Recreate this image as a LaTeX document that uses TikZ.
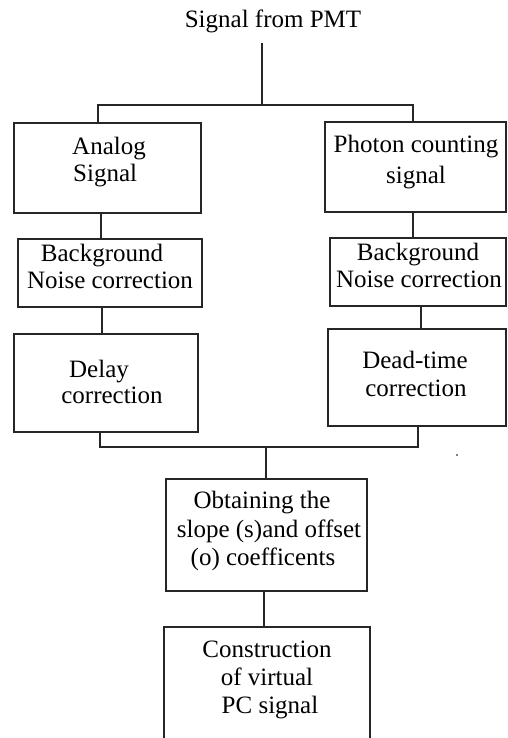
\documentclass[tikz,border=0pt]{standalone}
\usepackage{fontspec}
\setmainfont{Liberation Serif}
\begin{document}
\begin{tikzpicture}[x=1pt,y=-1pt,
  box/.style={draw=black!85, line width=1.2pt, rectangle, inner sep=0pt},
  txt/.style={anchor=base, inner sep=0pt, font=\fontsize{25}{28}\selectfont},
  wire/.style={draw=black!85, line width=1.2pt}]
\clip (0,0) rectangle (507,738);
\fill[white] (0,0) rectangle (507,738);
% boxes
\node[box, minimum width=187pt, minimum height=90pt] (a1) at (107.5,168) {};
\node[box, minimum width=181pt, minimum height=90pt] (p1) at (415.5,167) {};
\node[box, minimum width=184pt, minimum height=68pt] (a2) at (110,273) {};
\node[box, minimum width=176pt, minimum height=68pt] (p2) at (418,272) {};
\node[box, minimum width=184pt, minimum height=98pt] (a3) at (106,383) {};
\node[box, minimum width=178pt, minimum height=97pt] (p3) at (417,377.5) {};
\node[box, minimum width=201pt, minimum height=112pt] (o) at (266.5,535) {};
\node[box, minimum width=206pt, minimum height=140pt] (c) at (267,697) {};
% texts
\node[txt] (title) at (273,28) {Signal from PMT};
\node[txt, anchor=base west] (a1t1) at (72,155) {Analog};
\node[txt, anchor=base west] (a1t2) at (73,182) {Signal};
\node[txt] (p1t1) at (416,153) {Photon counting};
\node[txt] (p1t2) at (416,183) {signal};
\node[txt] (a2t1) at (102,261) {Background};
\node[txt] (a2t2) at (110,288) {Noise correction};
\node[txt] (p2t1) at (418,260) {Background};
\node[txt] (p2t2) at (419,287) {Noise correction};
\node[txt] (a3t1) at (99,377) {Delay};
\node[txt] (a3t2) at (112,403) {correction};
\node[txt] (p3t1) at (415,368) {Dead-time};
\node[txt] (p3t2) at (416,396) {correction};
\node[txt] (ot1) at (262,508) {Obtaining the};
\node[txt] (ot2) at (269,537) {slope (s)and offset};
\node[txt] (ot3) at (263,565) {(o) coefficents};
\node[txt] (ct1) at (267,657) {Construction};
\node[txt] (ct2) at (267,685) {of virtual};
\node[txt] (ct3) at (270,713) {PC signal};
% connectors
\coordinate (top) at (262,43);
\coordinate (split) at (262,105);
\coordinate (jl) at (98,105);
\coordinate (jr) at (413,105);
\draw[wire] (top) -- (split);
\draw[wire] (jl |- a1.north) -- (jl) -- (jr) -- (jr |- p1.north);
\coordinate (xa12) at (101,0);
\coordinate (xp12) at (413,0);
\coordinate (xa23) at (102,0);
\coordinate (xp23) at (421,0);
\draw[wire] (xa12 |- a1.south) -- (xa12 |- a2.north);
\draw[wire] (xp12 |- p1.south) -- (xp12 |- p2.north);
\draw[wire] (xa23 |- a2.south) -- (xa23 |- a3.north);
\draw[wire] (xp23 |- p2.south) -- (xp23 |- p3.north);
\coordinate (ml) at (100,447);
\coordinate (mr) at (418,447);
\coordinate (mc) at (266,447);
\draw[wire] (ml |- a3.south) -- (ml) -- (mr) -- (mr |- p3.south);
\draw[wire] (mc) -- (mc |- o.north);
\coordinate (xoc) at (264,0);
\draw[wire] (xoc |- o.south) -- (xoc |- c.north);
\fill (457,455) circle (0.9pt);
\end{tikzpicture}
\end{document}
